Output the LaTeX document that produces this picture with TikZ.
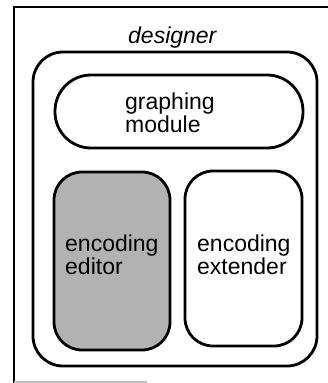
\documentclass[tikz,border=0pt]{standalone}
\usepackage{fontspec}
\setmainfont{Liberation Sans}
\begin{document}
\begin{tikzpicture}[x=1pt,y=-1pt,
  frameline/.style={line width=1.8pt},
  module/.style={draw, line width=2.8pt, rounded corners=#1, inner sep=0pt},
  label/.style={anchor=base west, inner sep=0pt, align=left,
    font=\fontsize{23}{22.5}\selectfont},
]
\useasboundingbox (0,0) rectangle (328,383);
% enclosing page frame, open on the right
\draw[frameline] (14,383) -- (14,7) -- (328,7);
\draw[line width=1.4pt, black!25] (14,382) -- (147,382);

% components
\node[module=30pt, minimum width=284pt, minimum height=314pt] (designer) at (175,209) {};
\node[module=36pt, minimum width=248pt, minimum height=73pt] (graphing) at (179,111.5) {};
\node[module=28pt, fill=black!30, minimum width=116pt, minimum height=178pt] (editor) at (112,261) {};
\node[module=28pt, minimum width=117pt, minimum height=175pt] (extender) at (243.5,258.5) {};

% labels (anchored at the baseline of the last line)
\node[label, font=\fontsize{23}{23}\selectfont\itshape] (designerlabel) at (128,43) {designer};
\node[label] (graphinglabel) at (125,132) {graphing\\module};
\node[label] (editorlabel) at (65,274) {encoding\\editor};
\node[label] (extenderlabel) at (197,274) {encoding\\extender};
\end{tikzpicture}
\end{document}
